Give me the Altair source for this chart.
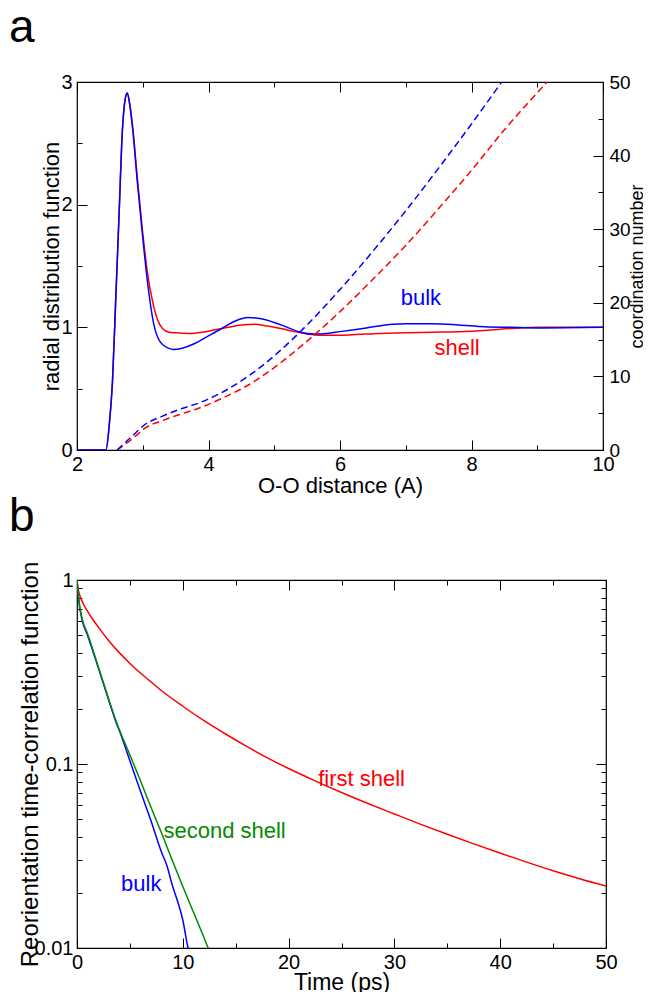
import altair as alt
import pandas as pd

FONT = "Liberation Sans"

# ---------------- Panel a: radial distribution functions ----------------
r_bulk = [2.0, 2.40, 2.44, 2.49, 2.54, 2.59, 2.64, 2.69, 2.73, 2.765, 2.80, 2.85, 2.917, 2.99,
          3.07, 3.17, 3.30, 3.475, 3.60, 3.80, 4.00, 4.20, 4.40, 4.60, 4.80, 5.00, 5.20, 5.40,
          5.60, 5.80, 6.00, 6.40, 6.80, 7.00, 7.40, 7.80, 8.20, 8.60, 9.00, 10.0]
g_bulk = [0.0, 0.0, 0.0, 0.2, 0.56, 1.24, 1.92, 2.6, 2.85, 2.91, 2.82, 2.6, 2.19, 1.785,
          1.38, 1.02, 0.86, 0.82, 0.83, 0.87, 0.93, 0.99, 1.05, 1.08, 1.07, 1.04, 1.00, 0.96,
          0.945, 0.95, 0.965, 0.995, 1.025, 1.03, 1.03, 1.02, 1.005, 1.0, 0.995, 1.0]

r_shell = [2.0, 2.40, 2.44, 2.49, 2.54, 2.59, 2.64, 2.69, 2.73, 2.765, 2.80, 2.85, 2.917, 2.99,
           3.07, 3.15, 3.22, 3.30, 3.40, 3.50, 3.70, 3.90, 4.10, 4.30, 4.50, 4.70, 4.90, 5.10,
           5.30, 5.50, 5.70, 5.90, 6.20, 6.60, 7.00, 7.40, 7.80, 8.20, 8.60, 9.00, 10.0]
g_shell = [0.0, 0.0, 0.0, 0.2, 0.56, 1.24, 1.92, 2.6, 2.85, 2.91, 2.83, 2.62, 2.22, 1.82,
           1.45, 1.21, 1.07, 0.99, 0.96, 0.955, 0.95, 0.96, 0.98, 1.0, 1.02, 1.025, 1.01, 0.99,
           0.965, 0.945, 0.935, 0.935, 0.94, 0.95, 0.955, 0.96, 0.965, 0.975, 0.99, 1.0, 1.0]

# coordination numbers (right axis)
rn_bulk = [2.61, 2.84, 3.04, 3.30, 3.55, 3.86, 4.2, 4.6, 5.0, 5.5, 6.0, 6.5, 7.0, 7.5, 8.0, 8.46]
n_bulk = [0.0, 1.9, 3.5, 4.6, 5.5, 6.4, 7.8, 10.0, 12.8, 17.0, 21.8, 27.0, 32.5, 38.3, 44.3, 50.0]
rn_shell = [2.61, 2.84, 3.04, 3.30, 3.55, 3.86, 4.2, 4.6, 5.0, 5.5, 6.0, 6.5, 7.0, 7.5, 8.0, 8.5, 9.15]
n_shell = [0.0, 1.5, 3.0, 4.0, 4.8, 5.7, 7.0, 8.8, 11.2, 14.8, 18.8, 23.2, 27.8, 32.8, 38.0, 43.5, 50.0]

labels_a = ["bulk", "shell"]
labels_a_r = [7.23, 7.78]
labels_a_g = [1.24, 0.83]

# ---------------- Panel b: reorientation time-correlation ----------------
t_first = [0, 0.1, 0.3, 0.6, 1.0, 1.5, 2.0, 3.0, 4.0, 5.0, 6.5, 8.0, 10.0, 12.0, 14.0, 16.0,
           18.0, 20.0, 22.5, 25.0, 27.5, 30.0, 32.5, 35.0, 37.5, 40.0, 42.5, 45.0, 47.5, 50.0]
c_first = [1.0, 0.902, 0.813, 0.741, 0.676, 0.610, 0.556, 0.468, 0.403, 0.352, 0.295, 0.250,
           0.206, 0.172, 0.146, 0.125, 0.108, 0.0945, 0.0810, 0.0700, 0.0610, 0.0535, 0.0470,
           0.0415, 0.0368, 0.0328, 0.0293, 0.0263, 0.0238, 0.0217]

t_second = [0, 0.15, 0.5, 1.0, 2.0, 3.0, 3.7, 5.0, 6.0, 7.0, 8.0, 9.0, 10.0, 11.0, 12.0, 12.4, 13.0]
c_second = [1.0, 0.8, 0.61, 0.51, 0.34, 0.225, 0.171, 0.112, 0.081, 0.058, 0.042, 0.030,
            0.0216, 0.0157, 0.0114, 0.010, 0.0088]

t_bulk = [0, 0.15, 0.5, 1.0, 2.0, 3.0, 3.7, 4.0, 5.0, 6.0, 7.0, 8.0, 8.5, 9.0, 9.5, 10.0, 10.5, 11.0]
c_bulk = [1.0, 0.79, 0.60, 0.50, 0.335, 0.222, 0.168, 0.152, 0.104, 0.071, 0.049, 0.033,
          0.028, 0.022, 0.018, 0.0142, 0.010, 0.0085]

labels_b = ["first shell", "second shell", "bulk"]
labels_b_t = [26.9, 13.95, 6.07]
labels_b_c = [0.083, 0.0432, 0.0223]

# ---------------- tables ----------------
df_g = pd.concat([
    pd.DataFrame({"r": r_shell, "g": g_shell, "series": "shell"}),
    pd.DataFrame({"r": r_bulk, "g": g_bulk, "series": "bulk"}),
])
df_n = pd.concat([
    pd.DataFrame({"r": rn_shell, "n": n_shell, "series": "shell"}),
    pd.DataFrame({"r": rn_bulk, "n": n_bulk, "series": "bulk"}),
])
df_la = pd.DataFrame({"r": labels_a_r, "g": labels_a_g, "series": labels_a, "text": labels_a})

df_b = pd.concat([
    pd.DataFrame({"t": t_first, "c": c_first, "series": "first shell"}),
    pd.DataFrame({"t": t_bulk, "c": c_bulk, "series": "bulk"}),
    pd.DataFrame({"t": t_second, "c": c_second, "series": "second shell"}),
])
df_lb = pd.DataFrame({"t": labels_b_t, "c": labels_b_c, "series": labels_b, "text": labels_b})

# ---------------- axes ----------------
common = dict(domain=False, grid=False, tickColor="black", tickWidth=1,
              labelFont=FONT, labelFontSize=20, labelColor="black", labelFlush=False,
              titleFont=FONT, titleFontSize=22, titleFontWeight="normal", titleColor="black")

def ax(orient, values, major_test, labels=True, title=None, **kw):
    ts = alt.ExprRef(f"({major_test}) ? -10 : -5")
    opts = dict(common)
    opts.update(kw)
    if labels:
        return alt.Axis(orient=orient, values=values, tickSize=ts,
                        labelExpr=f"({major_test}) ? format(datum.value, '~g') : ''",
                        title=title, **opts)
    return alt.Axis(orient=orient, values=values, tickSize=ts, labels=False, title=None, **opts)

xa_vals = [2, 3, 4, 5, 6, 7, 8, 9, 10]
ya_vals = [0, 0.5, 1, 1.5, 2, 2.5, 3]
na_vals = [0, 5, 10, 15, 20, 25, 30, 35, 40, 45, 50]
xb_vals = [0, 5, 10, 15, 20, 25, 30, 35, 40, 45, 50]
yb_vals = [0.01, 0.02, 0.03, 0.04, 0.05, 0.06, 0.07, 0.08, 0.09,
           0.1, 0.2, 0.3, 0.4, 0.5, 0.6, 0.7, 0.8, 0.9, 1]

xa_scale = alt.Scale(domain=[2, 10], nice=False, zero=False)
ya_scale = alt.Scale(domain=[0, 3], nice=False)
na_scale = alt.Scale(domain=[0, 50], nice=False)
xb_scale = alt.Scale(domain=[0, 50], nice=False)
yb_scale = alt.Scale(type="log", domain=[0.01, 1], nice=False)

xa_bottom = ax("bottom", xa_vals, "datum.value % 2 == 0", title="O-O distance (A)",
               labelPadding=14, titlePadding=1)
xa_top = ax("top", xa_vals, "datum.value % 2 == 0", labels=False)
ya_left = ax("left", ya_vals, "datum.value % 1 == 0", title="radial distribution function",
             labelPadding=15, titlePadding=2, titleBaseline="alphabetic")
ya_right = ax("right", na_vals, "datum.value % 10 == 0", title="coordination number",
              labelPadding=16, titlePadding=16, titleAngle=270, titleBaseline="bottom",
              labelFontSize=19, titleFontSize=18)

xb_bottom = ax("bottom", xb_vals, "datum.value % 10 == 0", title="Time (ps)",
               labelPadding=14, titlePadding=-1, titleFontSize=23)
xb_top = ax("top", xb_vals, "datum.value % 10 == 0", labels=False)
major_log = "datum.value == 1 || datum.value == 0.1 || datum.value == 0.01"
yb_left = ax("left", yb_vals, major_log, title="Reorientation time-correlation function",
             labelPadding=14, titlePadding=-3, titleBaseline="alphabetic", titleFontSize=24)
yb_right = ax("right", yb_vals, major_log, labels=False)

color_a = alt.Scale(domain=["bulk", "shell"], range=["#0000ff", "#ff0000"])
color_b = alt.Scale(domain=["first shell", "second shell", "bulk"],
                    range=["#ff0000", "#008c00", "#0000ff"])

# ---------------- panel a ----------------
g_lines = alt.Chart(df_g).mark_line(strokeWidth=1.5, clip=True, interpolate="monotone").encode(
    x=alt.X("r:Q", scale=xa_scale, axis=xa_bottom),
    y=alt.Y("g:Q", scale=ya_scale, axis=ya_left),
    color=alt.Color("series:N", scale=color_a, legend=None),
)
g_text = alt.Chart(df_la).mark_text(font=FONT, fontSize=22).encode(
    x=alt.X("r:Q", scale=xa_scale, axis=xa_bottom),
    y=alt.Y("g:Q", scale=ya_scale, axis=ya_left),
    text="text:N",
    color=alt.Color("series:N", scale=color_a, legend=None),
)
n_lines = alt.Chart(df_n).mark_line(strokeWidth=1.5, strokeDash=[7, 4], clip=True,
                                    interpolate="monotone").encode(
    x=alt.X("r:Q", scale=xa_scale, axis=xa_top),
    y=alt.Y("n:Q", scale=na_scale, axis=ya_right),
    color=alt.Color("series:N", scale=color_a, legend=None),
)

title_style = dict(anchor="start", font=FONT, fontSize=46, fontWeight="normal", color="black",
                   baseline="alphabetic", frame="group", dx=-68, offset=-16)

panel_a = alt.layer(alt.layer(g_lines, g_text), n_lines).resolve_scale(
    y="independent").resolve_axis(x="independent", y="independent").properties(
    width=526, height=368, title=alt.TitleParams("a", **title_style))

# ---------------- panel b ----------------
b_lines = alt.Chart(df_b).mark_line(strokeWidth=1.5, clip=True, interpolate="monotone").encode(
    x=alt.X("t:Q", scale=xb_scale, axis=xb_bottom),
    y=alt.Y("c:Q", scale=yb_scale, axis=yb_left),
    color=alt.Color("series:N", scale=color_b, legend=None),
)
b_text = alt.Chart(df_lb).mark_text(font=FONT, fontSize=22).encode(
    x=alt.X("t:Q", scale=xb_scale, axis=xb_bottom),
    y=alt.Y("c:Q", scale=yb_scale, axis=yb_left),
    text="text:N",
    color=alt.Color("series:N", scale=color_b, legend=None),
)
b_mirror = alt.Chart(df_b).mark_line(opacity=0, clip=True).encode(
    x=alt.X("t:Q", scale=xb_scale, axis=xb_top),
    y=alt.Y("c:Q", scale=yb_scale, axis=yb_right),
    detail="series:N",
)

panel_b = alt.layer(alt.layer(b_lines, b_text), b_mirror).resolve_axis(
    x="independent", y="independent").properties(
    width=529, height=368, title=alt.TitleParams("b", **title_style))

chart = alt.vconcat(panel_a, panel_b, spacing=130, bounds="flush").properties(
    padding={"left": 0, "top": -4, "right": -4, "bottom": 0},
    background="white",
).configure_view(stroke="black", strokeWidth=1.2).resolve_scale(color="independent")

chart.save("out.html", embed_options={"renderer": "svg", "actions": False})
